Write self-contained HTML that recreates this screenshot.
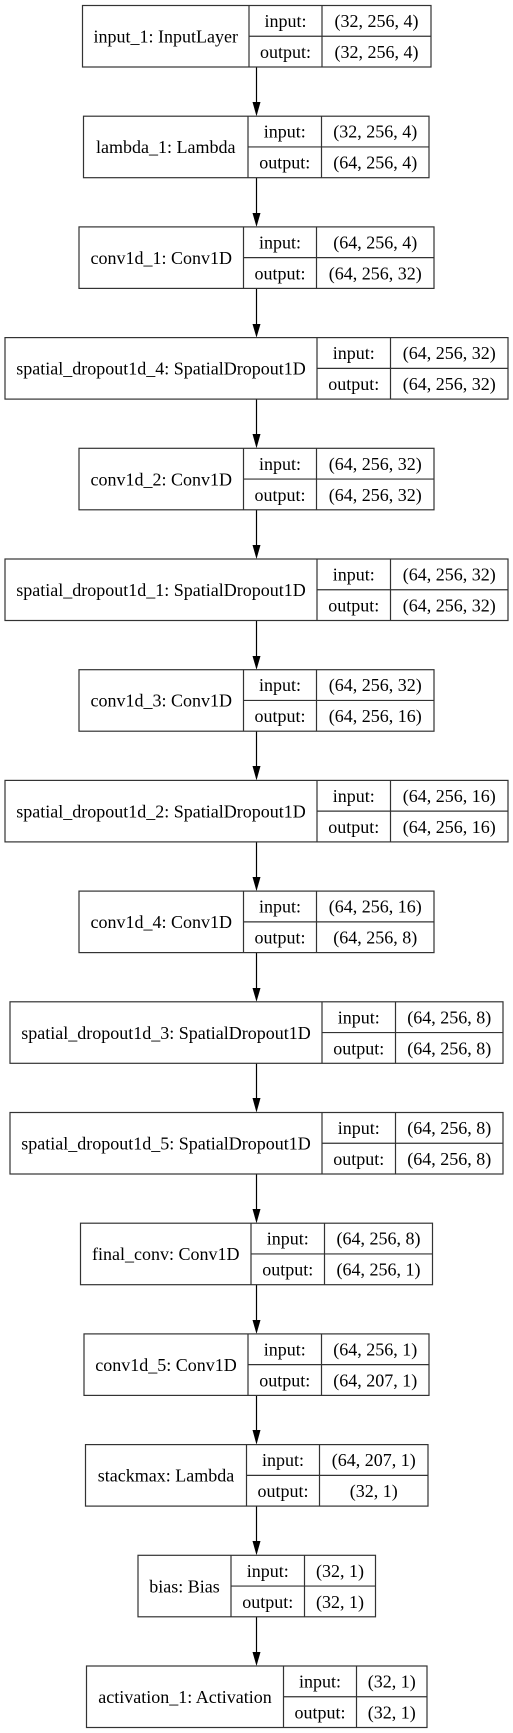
<!DOCTYPE html>
<html><head><meta charset="utf-8"><style>
html,body{margin:0;padding:0;background:#fff;}
svg{display:block;}
text{font-family:"Liberation Serif","DejaVu Serif",serif;font-size:18px;fill:#000;text-anchor:middle;}
rect,line.b{fill:none;stroke:#333;stroke-width:1.2;}
line.a{stroke:#000;stroke-width:1.2;}
</style></head><body>
<svg width="513" height="1733" viewBox="0 0 513 1733" xmlns="http://www.w3.org/2000/svg">
<g>
<line class="a" x1="256.5" y1="67" x2="256.5" y2="103"/><polygon points="252.5,102 260.5,102 256.5,116.2"/>
<line class="a" x1="256.5" y1="177.7" x2="256.5" y2="214"/><polygon points="252.5,213 260.5,213 256.5,226.9"/>
<line class="a" x1="256.5" y1="288.4" x2="256.5" y2="325"/><polygon points="252.5,324 260.5,324 256.5,337.6"/>
<line class="a" x1="256.5" y1="399.1" x2="256.5" y2="435"/><polygon points="252.5,434 260.5,434 256.5,448.3"/>
<line class="a" x1="256.5" y1="509.8" x2="256.5" y2="546"/><polygon points="252.5,545 260.5,545 256.5,559"/>
<line class="a" x1="256.5" y1="620.5" x2="256.5" y2="657"/><polygon points="252.5,656 260.5,656 256.5,669.7"/>
<line class="a" x1="256.5" y1="731.2" x2="256.5" y2="767"/><polygon points="252.5,766 260.5,766 256.5,780.4"/>
<line class="a" x1="256.5" y1="841.9" x2="256.5" y2="878"/><polygon points="252.5,877 260.5,877 256.5,891.1"/>
<line class="a" x1="256.5" y1="952.6" x2="256.5" y2="989"/><polygon points="252.5,988 260.5,988 256.5,1001.8"/>
<line class="a" x1="256.5" y1="1063.3" x2="256.5" y2="1099"/><polygon points="252.5,1098 260.5,1098 256.5,1112.5"/>
<line class="a" x1="256.5" y1="1174" x2="256.5" y2="1210"/><polygon points="252.5,1209 260.5,1209 256.5,1223.2"/>
<line class="a" x1="256.5" y1="1284.7" x2="256.5" y2="1321"/><polygon points="252.5,1320 260.5,1320 256.5,1333.9"/>
<line class="a" x1="256.5" y1="1395.4" x2="256.5" y2="1431"/><polygon points="252.5,1430 260.5,1430 256.5,1444.6"/>
<line class="a" x1="256.5" y1="1506.1" x2="256.5" y2="1542"/><polygon points="252.5,1541 260.5,1541 256.5,1555.3"/>
<line class="a" x1="256.5" y1="1616.8" x2="256.5" y2="1653"/><polygon points="252.5,1652 260.5,1652 256.5,1666"/>
</g>

<g transform="translate(0,5.5)">
<rect x="82.5" y="0" width="348.5" height="61.5"/><line class="b" x1="249" y1="0" x2="249" y2="61.5"/><line class="b" x1="322" y1="0" x2="322" y2="61.5"/><line class="b" x1="249" y1="30.75" x2="431" y2="30.75"/>
<text x="165.75" y="37">input_1: InputLayer</text><text x="285.5" y="21.5">input:</text><text x="285.5" y="52.5">output:</text><text x="376.5" y="21.5">(32, 256, 4)</text><text x="376.5" y="52.5">(32, 256, 4)</text>
</g>

<g transform="translate(0,116.2)">
<rect x="83.5" y="0" width="345.5" height="61.5"/><line class="b" x1="248" y1="0" x2="248" y2="61.5"/><line class="b" x1="321.5" y1="0" x2="321.5" y2="61.5"/><line class="b" x1="248" y1="30.75" x2="429" y2="30.75"/>
<text x="165.75" y="37">lambda_1: Lambda</text><text x="284.75" y="21.5">input:</text><text x="284.75" y="52.5">output:</text><text x="375.25" y="21.5">(32, 256, 4)</text><text x="375.25" y="52.5">(64, 256, 4)</text>
</g>

<g transform="translate(0,226.9)">
<rect x="79" y="0" width="355" height="61.5"/><line class="b" x1="243.5" y1="0" x2="243.5" y2="61.5"/><line class="b" x1="316.5" y1="0" x2="316.5" y2="61.5"/><line class="b" x1="243.5" y1="30.75" x2="434" y2="30.75"/>
<text x="161.25" y="37">conv1d_1: Conv1D</text><text x="280" y="21.5">input:</text><text x="280" y="52.5">output:</text><text x="375.25" y="21.5">(64, 256, 4)</text><text x="375.25" y="52.5">(64, 256, 32)</text>
</g>

<g transform="translate(0,337.6)">
<rect x="5" y="0" width="503" height="61.5"/><line class="b" x1="317" y1="0" x2="317" y2="61.5"/><line class="b" x1="390.5" y1="0" x2="390.5" y2="61.5"/><line class="b" x1="317" y1="30.75" x2="508" y2="30.75"/>
<text x="161" y="37">spatial_dropout1d_4: SpatialDropout1D</text><text x="353.75" y="21.5">input:</text><text x="353.75" y="52.5">output:</text><text x="449.25" y="21.5">(64, 256, 32)</text><text x="449.25" y="52.5">(64, 256, 32)</text>
</g>

<g transform="translate(0,448.3)">
<rect x="79" y="0" width="355" height="61.5"/><line class="b" x1="243.5" y1="0" x2="243.5" y2="61.5"/><line class="b" x1="316.5" y1="0" x2="316.5" y2="61.5"/><line class="b" x1="243.5" y1="30.75" x2="434" y2="30.75"/>
<text x="161.25" y="37">conv1d_2: Conv1D</text><text x="280" y="21.5">input:</text><text x="280" y="52.5">output:</text><text x="375.25" y="21.5">(64, 256, 32)</text><text x="375.25" y="52.5">(64, 256, 32)</text>
</g>

<g transform="translate(0,559)">
<rect x="5" y="0" width="503" height="61.5"/><line class="b" x1="317" y1="0" x2="317" y2="61.5"/><line class="b" x1="390.5" y1="0" x2="390.5" y2="61.5"/><line class="b" x1="317" y1="30.75" x2="508" y2="30.75"/>
<text x="161" y="37">spatial_dropout1d_1: SpatialDropout1D</text><text x="353.75" y="21.5">input:</text><text x="353.75" y="52.5">output:</text><text x="449.25" y="21.5">(64, 256, 32)</text><text x="449.25" y="52.5">(64, 256, 32)</text>
</g>

<g transform="translate(0,669.7)">
<rect x="79" y="0" width="355" height="61.5"/><line class="b" x1="243.5" y1="0" x2="243.5" y2="61.5"/><line class="b" x1="316.5" y1="0" x2="316.5" y2="61.5"/><line class="b" x1="243.5" y1="30.75" x2="434" y2="30.75"/>
<text x="161.25" y="37">conv1d_3: Conv1D</text><text x="280" y="21.5">input:</text><text x="280" y="52.5">output:</text><text x="375.25" y="21.5">(64, 256, 32)</text><text x="375.25" y="52.5">(64, 256, 16)</text>
</g>

<g transform="translate(0,780.4)">
<rect x="5" y="0" width="503" height="61.5"/><line class="b" x1="317" y1="0" x2="317" y2="61.5"/><line class="b" x1="390.5" y1="0" x2="390.5" y2="61.5"/><line class="b" x1="317" y1="30.75" x2="508" y2="30.75"/>
<text x="161" y="37">spatial_dropout1d_2: SpatialDropout1D</text><text x="353.75" y="21.5">input:</text><text x="353.75" y="52.5">output:</text><text x="449.25" y="21.5">(64, 256, 16)</text><text x="449.25" y="52.5">(64, 256, 16)</text>
</g>

<g transform="translate(0,891.1)">
<rect x="79" y="0" width="355" height="61.5"/><line class="b" x1="243.5" y1="0" x2="243.5" y2="61.5"/><line class="b" x1="316.5" y1="0" x2="316.5" y2="61.5"/><line class="b" x1="243.5" y1="30.75" x2="434" y2="30.75"/>
<text x="161.25" y="37">conv1d_4: Conv1D</text><text x="280" y="21.5">input:</text><text x="280" y="52.5">output:</text><text x="375.25" y="21.5">(64, 256, 16)</text><text x="375.25" y="52.5">(64, 256, 8)</text>
</g>

<g transform="translate(0,1001.8)">
<rect x="10" y="0" width="493" height="61.5"/><line class="b" x1="322" y1="0" x2="322" y2="61.5"/><line class="b" x1="395.5" y1="0" x2="395.5" y2="61.5"/><line class="b" x1="322" y1="30.75" x2="503" y2="30.75"/>
<text x="166" y="37">spatial_dropout1d_3: SpatialDropout1D</text><text x="358.75" y="21.5">input:</text><text x="358.75" y="52.5">output:</text><text x="449.25" y="21.5">(64, 256, 8)</text><text x="449.25" y="52.5">(64, 256, 8)</text>
</g>

<g transform="translate(0,1112.5)">
<rect x="10" y="0" width="493" height="61.5"/><line class="b" x1="322" y1="0" x2="322" y2="61.5"/><line class="b" x1="395.5" y1="0" x2="395.5" y2="61.5"/><line class="b" x1="322" y1="30.75" x2="503" y2="30.75"/>
<text x="166" y="37">spatial_dropout1d_5: SpatialDropout1D</text><text x="358.75" y="21.5">input:</text><text x="358.75" y="52.5">output:</text><text x="449.25" y="21.5">(64, 256, 8)</text><text x="449.25" y="52.5">(64, 256, 8)</text>
</g>

<g transform="translate(0,1223.2)">
<rect x="80.5" y="0" width="352" height="61.5"/><line class="b" x1="251" y1="0" x2="251" y2="61.5"/><line class="b" x1="324.5" y1="0" x2="324.5" y2="61.5"/><line class="b" x1="251" y1="30.75" x2="432.5" y2="30.75"/>
<text x="165.75" y="37">final_conv: Conv1D</text><text x="287.75" y="21.5">input:</text><text x="287.75" y="52.5">output:</text><text x="378.5" y="21.5">(64, 256, 8)</text><text x="378.5" y="52.5">(64, 256, 1)</text>
</g>

<g transform="translate(0,1333.9)">
<rect x="84" y="0" width="345" height="61.5"/><line class="b" x1="248" y1="0" x2="248" y2="61.5"/><line class="b" x1="321.5" y1="0" x2="321.5" y2="61.5"/><line class="b" x1="248" y1="30.75" x2="429" y2="30.75"/>
<text x="166" y="37">conv1d_5: Conv1D</text><text x="284.75" y="21.5">input:</text><text x="284.75" y="52.5">output:</text><text x="375.25" y="21.5">(64, 256, 1)</text><text x="375.25" y="52.5">(64, 207, 1)</text>
</g>

<g transform="translate(0,1444.6)">
<rect x="85.5" y="0" width="342.5" height="61.5"/><line class="b" x1="246.5" y1="0" x2="246.5" y2="61.5"/><line class="b" x1="319.5" y1="0" x2="319.5" y2="61.5"/><line class="b" x1="246.5" y1="30.75" x2="428" y2="30.75"/>
<text x="166" y="37">stackmax: Lambda</text><text x="283" y="21.5">input:</text><text x="283" y="52.5">output:</text><text x="373.75" y="21.5">(64, 207, 1)</text><text x="373.75" y="52.5">(32, 1)</text>
</g>

<g transform="translate(0,1555.3)">
<rect x="138" y="0" width="237.5" height="61.5"/><line class="b" x1="231" y1="0" x2="231" y2="61.5"/><line class="b" x1="304.5" y1="0" x2="304.5" y2="61.5"/><line class="b" x1="231" y1="30.75" x2="375.5" y2="30.75"/>
<text x="184.5" y="37">bias: Bias</text><text x="267.75" y="21.5">input:</text><text x="267.75" y="52.5">output:</text><text x="340" y="21.5">(32, 1)</text><text x="340" y="52.5">(32, 1)</text>
</g>

<g transform="translate(0,1666)">
<rect x="86.5" y="0" width="340.5" height="61.5"/><line class="b" x1="283.5" y1="0" x2="283.5" y2="61.5"/><line class="b" x1="356.5" y1="0" x2="356.5" y2="61.5"/><line class="b" x1="283.5" y1="30.75" x2="427" y2="30.75"/>
<text x="185" y="37">activation_1: Activation</text><text x="320" y="21.5">input:</text><text x="320" y="52.5">output:</text><text x="391.75" y="21.5">(32, 1)</text><text x="391.75" y="52.5">(32, 1)</text>
</g>
</svg>
</body></html>
